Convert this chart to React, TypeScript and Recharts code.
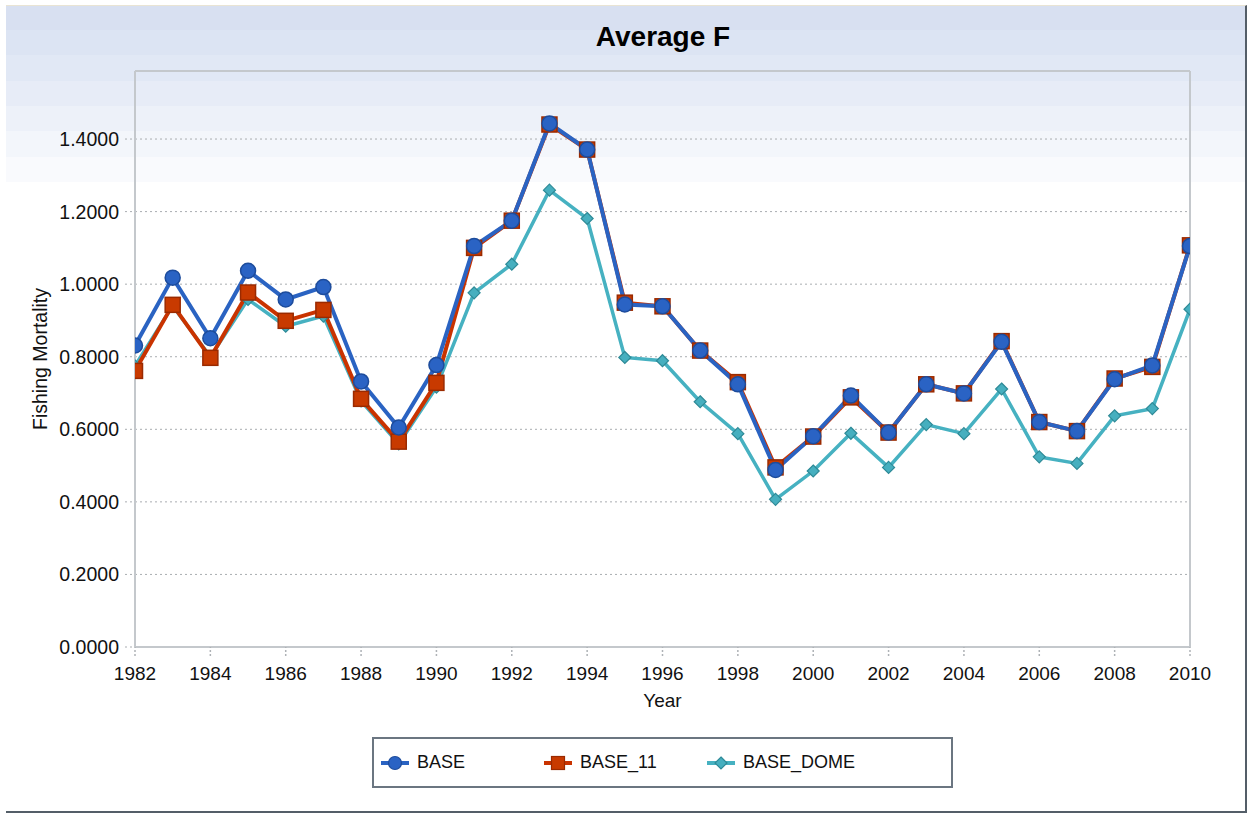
import React from "react";
import {
  LineChart,
  Line,
  XAxis,
  YAxis,
  CartesianGrid,
  ReferenceLine,
} from "recharts";

// Fishing year categories
const years = [
  1982, 1983, 1984, 1985, 1986, 1987, 1988, 1989, 1990, 1991, 1992, 1993, 1994, 1995,
  1996, 1997, 1998, 1999, 2000, 2001, 2002, 2003, 2004, 2005, 2006, 2007, 2008, 2009, 2010,
];

// Average fishing mortality per run
const baseF = [
  0.831, 1.018, 0.851, 1.037, 0.958, 0.992, 0.732, 0.605, 0.777, 1.105, 1.175, 1.443, 1.371, 0.944,
  0.939, 0.817, 0.724, 0.488, 0.581, 0.693, 0.591, 0.724, 0.699, 0.841, 0.62, 0.595, 0.738, 0.776, 1.105,
];
const base11F = [
  0.761, 0.943, 0.797, 0.977, 0.899, 0.929, 0.684, 0.566, 0.728, 1.1, 1.175, 1.44, 1.371, 0.949,
  0.939, 0.817, 0.73, 0.495, 0.58, 0.688, 0.591, 0.724, 0.699, 0.843, 0.62, 0.595, 0.74, 0.772, 1.107,
];
const baseDomeF = [
  0.775, 0.94, 0.8, 0.958, 0.884, 0.912, 0.678, 0.56, 0.716, 0.976, 1.055, 1.259, 1.181, 0.798,
  0.789, 0.676, 0.588, 0.407, 0.485, 0.589, 0.495, 0.613, 0.588, 0.711, 0.524, 0.506, 0.637, 0.657, 0.931,
];

// Axis ticks
const yMajorTicks = [0, 0.2, 0.4, 0.6, 0.8, 1.0, 1.2, 1.4];
const yMinorTicks = [0.1, 0.3, 0.5, 0.7, 0.9, 1.1, 1.3, 1.5];
const xMajorTicks = [1982, 1984, 1986, 1988, 1990, 1992, 1994, 1996, 1998, 2000, 2002, 2004, 2006, 2008, 2010];
const xMinorTicks = [1983, 1985, 1987, 1989, 1991, 1993, 1995, 1997, 1999, 2001, 2003, 2005, 2007, 2009];

const Y_MAX = 1.5875;
const FONT = "'Liberation Sans', Arial, Helvetica, sans-serif";

const rows = years.map((year, i) => ({
  year,
  BASE: baseF[i],
  BASE_11: base11F[i],
  BASE_DOME: baseDomeF[i],
}));

const COLORS = {
  base: { line: "#2a63c2", fill: "#2a63c4", edge: "#1d4c9c" },
  base11: { line: "#c93300", fill: "#c83a00", edge: "#9a2a00" },
  dome: { line: "#46b1c1", fill: "#46afbf", edge: "#2e8a97" },
};

const CircleDot = (props: any) => {
  const { cx, cy, index } = props;
  if (cx == null || cy == null) return <g key={`c-${index}`} />;
  return (
    <circle key={`c-${index}`} cx={cx} cy={cy} r={7.5} fill={COLORS.base.fill} stroke={COLORS.base.edge} strokeWidth={1.5} />
  );
};

const SquareDot = (props: any) => {
  const { cx, cy, index } = props;
  if (cx == null || cy == null) return <g key={`s-${index}`} />;
  return (
    <rect key={`s-${index}`} x={cx - 7.5} y={cy - 7.5} width={15} height={15} fill={COLORS.base11.fill} stroke={COLORS.base11.edge} strokeWidth={1.5} />
  );
};

const DiamondDot = (props: any) => {
  const { cx, cy, index } = props;
  if (cx == null || cy == null) return <g key={`d-${index}`} />;
  const r = 6;
  return (
    <polygon
      key={`d-${index}`}
      points={`${cx},${cy - r} ${cx + r},${cy} ${cx},${cy + r} ${cx - r},${cy}`}
      fill={COLORS.dome.fill}
      stroke={COLORS.dome.edge}
      strokeWidth={1.2}
    />
  );
};

const legendItems = [
  { name: "BASE", color: COLORS.base, shape: "circle" },
  { name: "BASE_11", color: COLORS.base11, shape: "square" },
  { name: "BASE_DOME", color: COLORS.dome, shape: "diamond" },
];

const LegendIcon = ({ shape, color }: { shape: string; color: any }) => (
  <svg width={30} height={20} style={{ display: "block" }}>
    <line x1={1} y1={10} x2={29} y2={10} stroke={color.line} strokeWidth={4} />
    {shape === "circle" && <circle cx={15} cy={10} r={6.5} fill={color.fill} stroke={color.edge} strokeWidth={1.2} />}
    {shape === "square" && <rect x={8.5} y={3.5} width={13} height={13} fill={color.fill} stroke={color.edge} strokeWidth={1.2} />}
    {shape === "diamond" && (
      <polygon points="15,4 21,10 15,16 9,10" fill={color.fill} stroke={color.edge} strokeWidth={1.2} />
    )}
  </svg>
);

const bandBackground =
  "linear-gradient(to bottom," +
  " #d8e0f1 0px, #d8e0f1 24px," +
  " #dce4f3 24px, #dce4f3 49px," +
  " #e1e8f5 49px, #e1e8f5 75px," +
  " #e7ecf7 75px, #e7ecf7 100px," +
  " #edf1f9 100px, #edf1f9 125px," +
  " #f3f6fb 125px, #f3f6fb 151px," +
  " #f9fafd 151px, #f9fafd 176px," +
  " #ffffff 176px, #ffffff 100%)";

export default function App() {
  return (
    <div
      style={{
        position: "absolute",
        left: 6,
        top: 5,
        width: 1241,
        height: 808,
        boxSizing: "border-box",
        borderTop: "1px solid #e9e4d4",
        borderRight: "2px solid #545e68",
        borderBottom: "2px solid #545e68",
        background: bandBackground,
        fontFamily: FONT,
      }}
    >
      <div
        style={{
          position: "absolute",
          left: 0,
          width: 1314,
          top: 17,
          textAlign: "center",
          fontSize: 28,
          fontWeight: "bold",
          color: "#000",
          lineHeight: "28px",
        }}
      >
        Average F
      </div>

      <LineChart
        width={1239}
        height={805}
        data={rows}
        margin={{ top: 65, right: 55, bottom: 124, left: 34 }}
        style={{ position: "absolute", left: 0, top: 0 }}
      >
        <CartesianGrid vertical={false} stroke="#a9adb1" strokeDasharray="2 3" />

        <XAxis
          xAxisId="minor"
          dataKey="year"
          type="number"
          domain={[1982, 2010]}
          allowDataOverflow
          ticks={xMinorTicks}
          tick={false}
          tickLine={{ stroke: "#b5b9bd", strokeWidth: 1.5 }}
          tickSize={5}
          axisLine={false}
          height={0}
        />
        <XAxis
          dataKey="year"
          type="number"
          domain={[1982, 2010]}
          allowDataOverflow
          ticks={xMajorTicks}
          interval={0}
          tick={{ fill: "#111", fontSize: 19, fontFamily: FONT }}
          tickLine={{ stroke: "#aeb2b6", strokeWidth: 1.5, strokeDasharray: "2 2" }}
          tickSize={9}
          tickMargin={11}
          axisLine={{ stroke: "#c4c8cc", strokeWidth: 2 }}
          height={40}
          label={{
            content: ({ viewBox }: any) => (
              <text
                x={viewBox.x + viewBox.width / 2}
                y={viewBox.y + 55}
                textAnchor="middle"
                dominantBaseline="middle"
                fontSize={19}
                fontFamily={FONT}
                fill="#111"
              >
                Year
              </text>
            ),
          }}
        />

        <YAxis
          yAxisId="minor"
          type="number"
          domain={[0, Y_MAX]}
          allowDataOverflow
          ticks={yMinorTicks}
          tick={false}
          tickLine={{ stroke: "#b5b9bd", strokeWidth: 1.5 }}
          tickSize={4}
          axisLine={false}
          width={0}
        />
        <YAxis
          type="number"
          domain={[0, Y_MAX]}
          allowDataOverflow
          ticks={yMajorTicks}
          interval={0}
          tickFormatter={(v: number) => v.toFixed(4)}
          tick={{ fill: "#111", fontSize: 19.5, fontFamily: FONT }}
          tickLine={{ stroke: "#a9adb1", strokeDasharray: "2 3" }}
          tickSize={10}
          tickMargin={6}
          axisLine={{ stroke: "#c4c8cc", strokeWidth: 2 }}
          width={95}
          label={{
            content: ({ viewBox }: any) => (
              <text
                x={viewBox.x + 2}
                y={viewBox.y + viewBox.height / 2}
                transform={`rotate(-90, ${viewBox.x + 2}, ${viewBox.y + viewBox.height / 2})`}
                textAnchor="middle"
                dominantBaseline="middle"
                fontSize={19.5}
                fontFamily={FONT}
                fill="#111"
              >
                Fishing Mortality
              </text>
            ),
          }}
        />

        <ReferenceLine y={Y_MAX} stroke="#c4c8cc" strokeWidth={2} />
        <ReferenceLine x={2010} stroke="#c4c8cc" strokeWidth={2} />

        <Line
          dataKey="BASE_DOME"
          type="linear"
          stroke={COLORS.dome.line}
          strokeWidth={3.5}
          dot={DiamondDot}
          activeDot={false}
          isAnimationActive={false}
        />
        <Line
          dataKey="BASE_11"
          type="linear"
          stroke={COLORS.base11.line}
          strokeWidth={4}
          dot={SquareDot}
          activeDot={false}
          isAnimationActive={false}
        />
        <Line
          dataKey="BASE"
          type="linear"
          stroke={COLORS.base.line}
          strokeWidth={4}
          dot={CircleDot}
          activeDot={false}
          isAnimationActive={false}
        />
      </LineChart>

      <div
        style={{
          position: "absolute",
          left: 366,
          top: 731,
          width: 581,
          height: 51,
          boxSizing: "border-box",
          border: "2px solid #6b7681",
          background: "#fff",
          display: "flex",
          alignItems: "center",
          paddingLeft: 6,
        }}
      >
        {legendItems.map((item) => (
          <div key={item.name} style={{ width: 163, display: "flex", alignItems: "center" }}>
            <LegendIcon shape={item.shape} color={item.color} />
            <span style={{ marginLeft: 7, fontSize: 18, color: "#111", fontFamily: FONT }}>{item.name}</span>
          </div>
        ))}
      </div>
    </div>
  );
}
